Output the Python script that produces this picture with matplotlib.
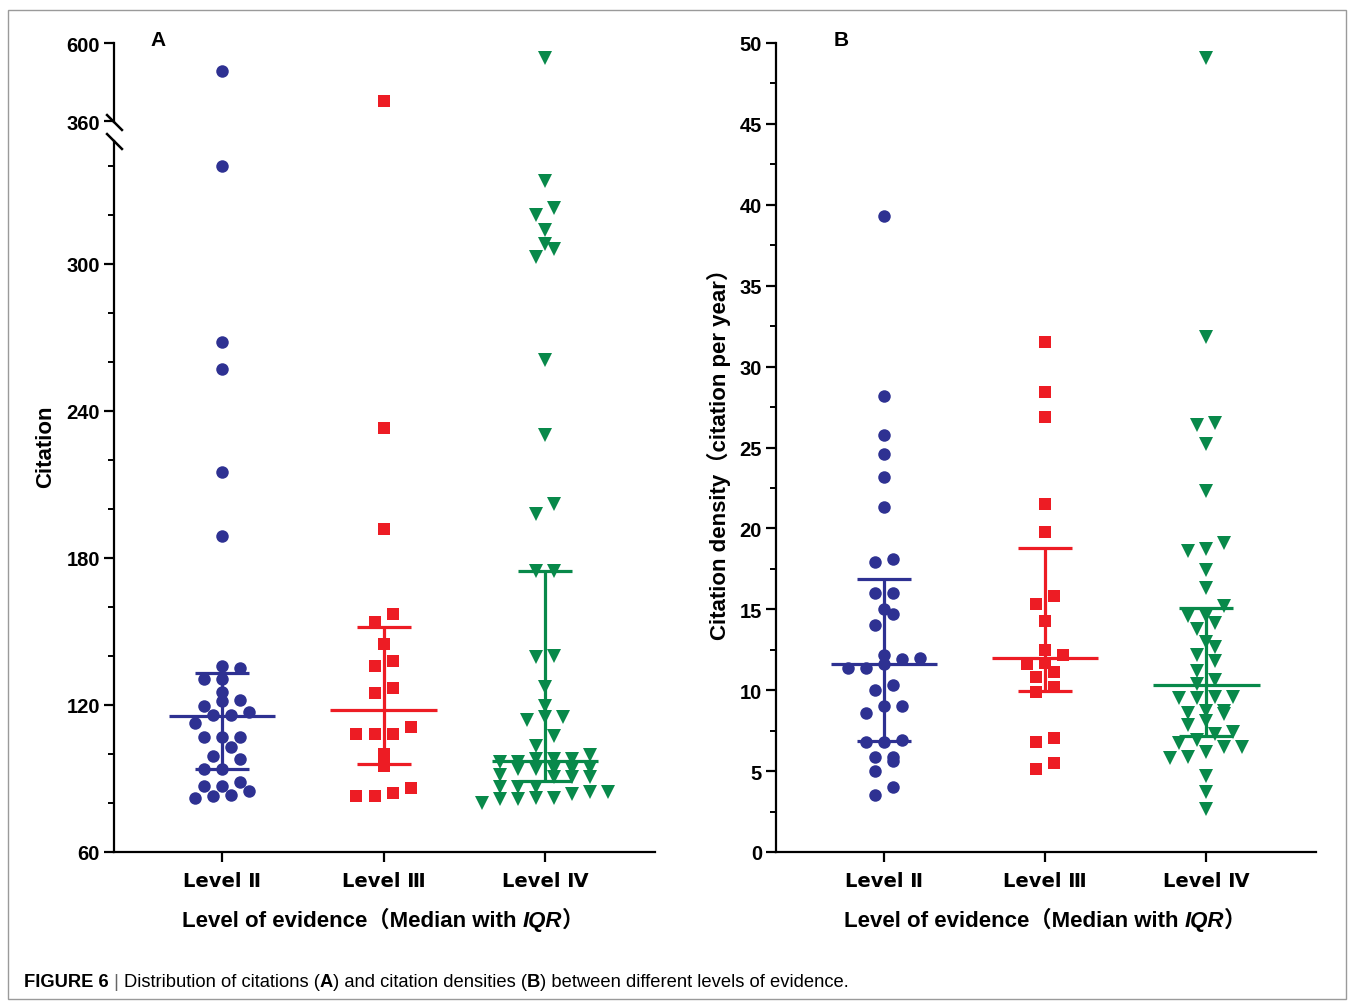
import numpy as np
import matplotlib
matplotlib.use("Agg")
from matplotlib import pyplot as plt
from matplotlib.offsetbox import TextArea, HPacker, AnnotationBbox
from matplotlib.patches import Rectangle

plt.rcParams['font.family'] = ['Liberation Sans', 'Noto Sans CJK SC', 'DejaVu Sans']

levels = ["Level Ⅱ", "Level Ⅲ", "Level Ⅳ"]
colors = ["#2E3192", "#ED1C24", "#08894A"]
markers = ["o", "s", "v"]
sizes = [9.0, 8.2, 9.5]

# Panel A: citations
cit_II = [514, 340, 268, 257, 215, 189, 136.0, 135.0, 130.6, 130.6, 125.2, 122.0, 121.8,
          119.7, 115.9, 115.9, 117.0, 112.5, 106.8, 106.8, 106.8, 103.0, 98.0, 99.1,
          93.9, 93.9, 87.1, 84.8, 83.0, 87.1, 88.7, 83.3, 81.9]
cit_III = [422, 233, 192, 157, 154, 145, 138, 136, 127, 125, 111, 108, 108, 108, 100,
           95, 86, 84, 83, 83]
cit_IV = [553, 334, 323, 320, 314, 308, 306, 303, 261, 230, 202, 198, 174.7, 174.7,
          139.4, 140, 127.2, 119.7, 115, 113.9, 115, 107.5, 103.4, 99.6, 98, 96.8, 96.8,
          98, 98, 94.2, 93.9, 93.9, 93.9, 93.9, 90.5, 90.5, 91.4, 90.5, 86.4, 86.4, 86.4,
          83.7, 84.4, 84.4, 82.2, 82.2, 81.6, 81.6, 80.2]
med_a = [115.7, 118.0, 97.3]
q1_a = [93.9, 96.0, 88.9]
q3_a = [133.0, 151.8, 174.7]

# Panel B: citation density
dens_II = [39.3, 28.2, 25.8, 24.6, 23.2, 21.3, 18.1, 17.9, 16.0, 16.0, 15.0, 14.7, 14.0,
           12.2, 11.9, 12.0, 11.6, 11.4, 11.4, 10.3, 10.0, 9.0, 9.0, 8.6, 6.9, 6.8, 6.8,
           5.85, 5.6, 5.9, 5.0, 4.0, 3.5]
dens_III = [31.5, 28.4, 26.9, 21.5, 19.8, 15.8, 15.3, 14.3, 12.5, 12.2, 11.7, 11.6, 11.1,
            10.8, 10.2, 9.9, 7.05, 6.8, 5.5, 5.1]
dens_IV = [49.1, 31.8, 26.5, 26.4, 25.2, 22.3, 19.1, 18.7, 18.6, 17.4, 16.3, 15.2, 14.6,
           14.6, 14.15, 13.8, 12.95, 12.7, 12.2, 11.8, 11.2, 10.6, 10.4, 9.5, 9.5, 9.6,
           9.6, 8.7, 8.6, 8.5, 8.7, 7.85, 8.1, 7.3, 6.9, 6.75, 7.4, 6.5, 6.5, 6.15, 5.9,
           5.8, 4.7, 3.7, 2.65]
med_b = [11.6, 11.97, 10.3]
q1_b = [6.84, 9.93, 7.19]
q3_b = [16.9, 18.8, 15.1]

W, H = 1349, 1003
fig = plt.figure(figsize=(W / 100, H / 100), dpi=100)
fig.add_artist(Rectangle((8 / W, 3 / H), 1338 / W, 989 / H, transform=fig.transFigure,
                         fill=False, edgecolor="#9a9a9a", linewidth=1))


def fx(px):
    return px / W


def fy(py):
    return 1 - py / H


axA = fig.add_axes([fx(114), fy(853), fx(541), (853 - 142) / H])
axA_top = fig.add_axes([fx(114), fy(44) - 79 / H, fx(541), 79 / H])
axB = fig.add_axes([fx(776), fy(853), fx(540), (853 - 44) / H])

tickfont = dict(family=['Liberation Sans', 'DejaVu Sans'], weight='bold', size=14.5)
levfont = dict(family=['DejaVu Sans', 'Noto Sans CJK SC'], weight='bold', size=14)


def column_scatter(ax, data, lo, hi, rowh, step=0.112):
    # Prism-like column scatter: values close together share a row, spread sideways
    for i, vals in enumerate(data):
        v = np.sort([x for x in vals if lo <= x <= hi])
        if len(v) == 0:
            continue
        xs = np.zeros(len(v))
        start = 0
        while start < len(v):
            end = start
            while end + 1 < len(v) and v[end + 1] - v[start] < rowh:
                end += 1
            n = end - start + 1
            xs[start:end + 1] = i + (np.arange(n) - (n - 1) / 2) * step
            start = end + 1
        ax.plot(xs, v, linestyle="none", marker=markers[i], markersize=sizes[i],
                color=colors[i], markeredgewidth=0, zorder=2, clip_on=False)


def iqr(ax, med, q1, q3):
    for i in range(3):
        ax.hlines(med[i], i - 0.33, i + 0.33, color=colors[i], lw=2.3, zorder=3)
        ax.hlines([q1[i], q3[i]], i - 0.167, i + 0.167, color=colors[i], lw=2.3, zorder=3)
        ax.vlines(i, q1[i], q3[i], color=colors[i], lw=2.3, zorder=3)


def style(ax, bottom=True):
    for s in ["top", "right"]:
        ax.spines[s].set_visible(False)
    ax.spines["left"].set_linewidth(1.6)
    ax.spines["bottom"].set_linewidth(1.6)
    ax.tick_params(axis="y", which="major", length=7, width=1.6, pad=3)
    ax.tick_params(axis="y", which="minor", length=4.5, width=1.4)
    ax.set_xlim(-0.669, 2.68)
    if bottom:
        ax.set_xticks(range(3))
        ax.set_xticklabels(levels, **levfont)
        ax.tick_params(axis="x", length=7, width=1.6, pad=7)
    else:
        ax.spines["bottom"].set_visible(False)
        ax.set_xticks([])
    for lab in ax.get_yticklabels():
        lab.set(**tickfont)


# Panel A lower
column_scatter(axA, [cit_II, cit_III, cit_IV], 0, 352, 4.9)
iqr(axA, med_a, q1_a, q3_a)
axA.set_ylim(60, 350.2)
axA.set_yticks([60, 120, 180, 240, 300])
axA.set_yticks(np.arange(80, 350, 20), minor=True)
style(axA)

# Panel A upper
column_scatter(axA_top, [cit_II, cit_III, cit_IV], 357, 700, 4.9)
axA_top.set_ylim(357, 600)
axA_top.set_yticks([360, 600])
axA_top.minorticks_off()
style(axA_top, bottom=False)

# break marks
brk = dict(marker=[(-1, 1), (1, -1)], markersize=12, markeredgewidth=1.8, color="k",
           clip_on=False, linestyle="none")
axA.plot([0], [1], transform=axA.transAxes, **brk)
axA_top.plot([0], [0], transform=axA_top.transAxes, **brk)

# Panel B
column_scatter(axB, [dens_II, dens_III, dens_IV], 0, 60, 0.74)
iqr(axB, med_b, q1_b, q3_b)
axB.set_ylim(0, 50)
axB.set_yticks(np.arange(0, 51, 5))
axB.set_yticks(np.arange(2.5, 50, 5), minor=True)
style(axB)

# axis titles
fig.text(fx(46), fy(447), "Citation", rotation=90, ha="center", va="center",
         fontsize=16, fontweight="bold")
fig.text(fx(719), fy(449), "Citation density（citation per year）", rotation=90,
         ha="center", va="center", fontsize=16, fontweight="bold")
fig.text(fx(158), fy(41), "A", ha="center", va="center", fontsize=15, fontweight="bold")
fig.text(fx(841), fy(41), "B", ha="center", va="center", fontsize=15, fontweight="bold")


def packed(parts, xy, align, size):
    boxes = [TextArea(t, textprops=dict(size=size, **p)) for t, p in parts]
    pk = HPacker(children=boxes, pad=0, sep=0, align="baseline")
    ab = AnnotationBbox(pk, xy, xycoords="figure fraction", frameon=False,
                        box_alignment=align, pad=0)
    fig.add_artist(ab)


b = dict(weight="bold")
bi = dict(weight="bold", style="italic")
xl = [("Level of evidence（Median with ", b), ("IQR", bi), ("）", b)]
packed(xl, (fx(383), fy(921)), (0.5, 0.5), 16)
packed(xl, (fx(1045), fy(921)), (0.5, 0.5), 16)

cap = [("FIGURE 6", dict(weight="bold")),
       (" | ", dict(color="#666666")),
       ("Distribution of citations (", {}),
       ("A", dict(weight="bold")),
       (") and citation densities (", {}),
       ("B", dict(weight="bold")),
       (") between different levels of evidence.", {})]
packed(cap, (fx(24), fy(983)), (0, 0.5), 13.2)

fig.savefig("out.png", dpi=100)
